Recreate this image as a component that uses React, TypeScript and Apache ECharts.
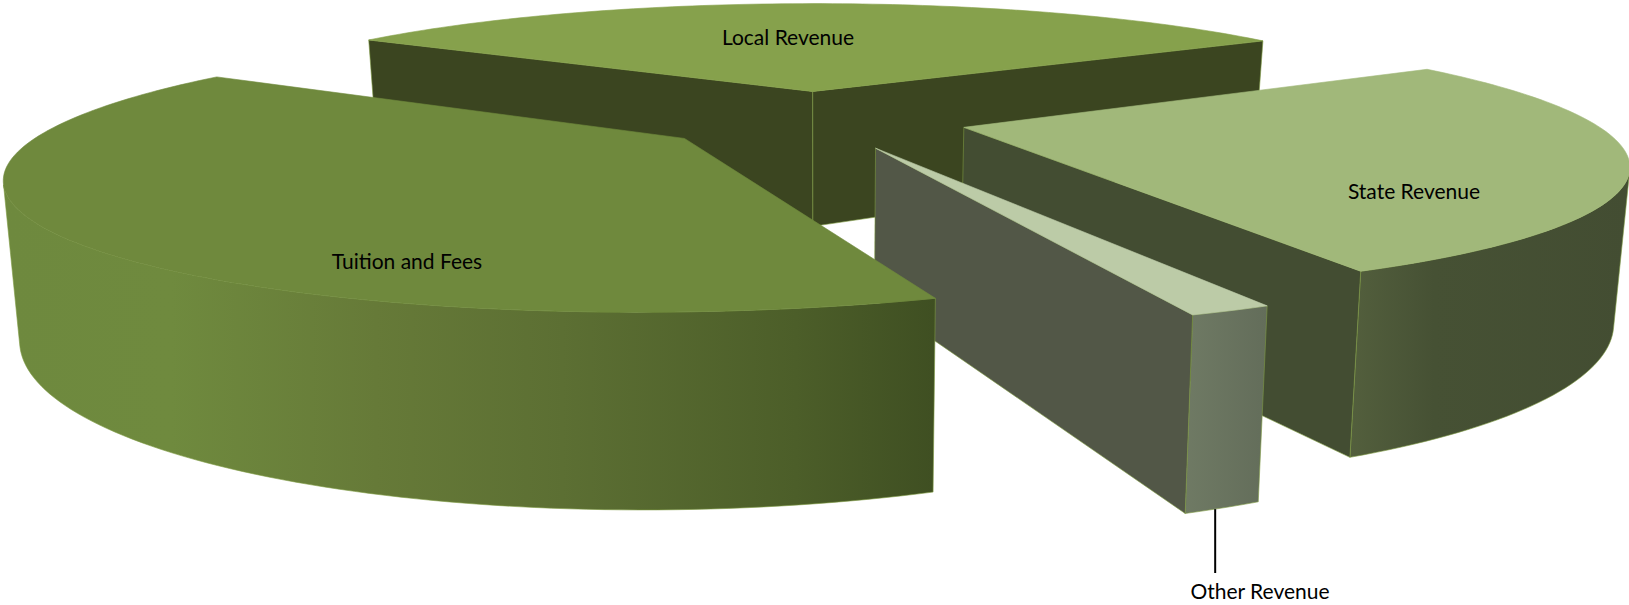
import React, { useEffect, useRef } from "react";
import * as echarts from "echarts";

// Revenue shares in percent, listed clockwise from the far-left cut of the pie.
const categories = ["Local Revenue", "State Revenue", "Other Revenue", "Tuition and Fees"];
const shares = [32.2, 26.6, 1.6, 39.6];
const explosion = [0.24, 0.25, 0.25, 0.25];

const WIDTH = 1629;
const HEIGHT = 605;
const FIRST_ANGLE = 212.4;

// Perspective camera: points on the top plane of the pie map to the screen through depth.
const CAM = {
  cx: 820.7,
  cy: 0,
  spreadX: 2598,
  horizon: -382.3,
  spreadY: 2082,
  distance: 4,
  thickness: 593,
  baseShrink: 0.02,
  centerX: -0.015,
  centerY: -0.155,
};

const topPoint = (X: number, Y: number) => {
  const d = CAM.distance - Y;
  return [CAM.cx + (CAM.spreadX * X) / d, CAM.horizon + CAM.spreadY / d];
};

const basePoint = (X: number, Y: number) => {
  const d = CAM.distance - Y;
  const [x, y] = topPoint(X, Y);
  return [CAM.cx + (x - CAM.cx) * (1 - CAM.baseShrink), y + CAM.thickness / d];
};

const cross = (a: number[], b: number[], c: number[]) =>
  (b[0] - a[0]) * (c[1] - b[1]) - (b[1] - a[1]) * (c[0] - b[0]);

type Stops = [number, string][];

const faceStyles: {
  top: string;
  cut: string;
  side: Stops;
  label: [number, number];
}[] = [
  {
    top: "#86A14C",
    cut: "#3B4520",
    side: [[0, "#3B4520"], [1, "#3B4520"]],
    label: [788, 36],
  },
  {
    top: "#A1B87A",
    cut: "#434D32",
    side: [[0, "#535F3D"], [0.3, "#465134"], [1, "#434D32"]],
    label: [1414, 190],
  },
  {
    top: "#BCCBA7",
    cut: "#525747",
    side: [[0, "#6F7A64"], [1, "#636D5A"]],
    label: [1260, 590],
  },
  {
    top: "#6F893D",
    cut: "#3B4520",
    side: [
      [0, "#6E893E"],
      [0.18, "#6F8A3E"],
      [0.4, "#667A38"],
      [0.6, "#5C6F33"],
      [0.85, "#4C5E29"],
      [1, "#3F4F22"],
    ],
    label: [407, 260],
  },
];

const EDGE = "#7E9B42";

const sliceBounds = (index: number) => {
  const total = shares.reduce((s, v) => s + v, 0);
  const before = shares.slice(0, index).reduce((s, v) => s + v, 0);
  const start = FIRST_ANGLE + (before / total) * 360;
  return [start, start + (shares[index] / total) * 360];
};

const renderSlice = (params: any) => {
  const i = params.dataIndex;
  const [a0, a1] = sliceBounds(i);
  const mid = (((a0 + a1) / 2) * Math.PI) / 180;
  const ox = CAM.centerX + explosion[i] * Math.cos(mid);
  const oy = CAM.centerY + explosion[i] * Math.sin(mid);
  const look = faceStyles[i];

  const steps = Math.max(4, Math.ceil((a1 - a0) / 1.2));
  const rim: [number, number][] = [];
  for (let s = 0; s <= steps; s++) {
    const t = ((a0 + ((a1 - a0) * s) / steps) * Math.PI) / 180;
    rim.push([ox + Math.cos(t), oy + Math.sin(t)]);
  }
  const apexTop = topPoint(ox, oy);
  const apexBase = basePoint(ox, oy);
  const rimTop = rim.map(([x, y]) => topPoint(x, y));
  const rimBase = rim.map(([x, y]) => basePoint(x, y));

  const children: any[] = [];

  // Curved outer wall: only the run of segments that face the camera.
  let first = -1;
  let last = -1;
  for (let s = 0; s < steps; s++) {
    if (cross(rimTop[s], rimTop[s + 1], rimBase[s + 1]) < 0) {
      if (first < 0) first = s;
      last = s + 1;
    }
  }
  if (first >= 0) {
    const wall = [
      ...rimTop.slice(first, last + 1),
      ...rimBase.slice(first, last + 1).reverse(),
    ];
    children.push({
      type: "polygon",
      shape: { points: wall },
      style: {
        fill: new echarts.graphic.LinearGradient(
          0,
          0,
          1,
          0,
          look.side.map(([offset, color]) => ({ offset, color }))
        ),
        stroke: EDGE,
        lineWidth: 0.6,
      },
    });
  }

  // Flat cut faces, kept only when they turn toward the camera.
  const startVisible = cross(apexTop, rimTop[0], rimBase[0]) < 0;
  const endVisible = cross(apexTop, rimTop[steps], rimBase[steps]) > 0;
  if (startVisible) {
    children.push({
      type: "polygon",
      shape: { points: [apexTop, rimTop[0], rimBase[0], apexBase] },
      style: { fill: look.cut, stroke: EDGE, lineWidth: 0.6 },
    });
  }
  if (endVisible) {
    children.push({
      type: "polygon",
      shape: { points: [apexTop, rimTop[steps], rimBase[steps], apexBase] },
      style: { fill: look.cut, stroke: EDGE, lineWidth: 0.6 },
    });
  }

  // Top surface.
  children.push({
    type: "polygon",
    shape: { points: [apexTop, ...rimTop] },
    style: { fill: look.top, stroke: look.top, lineWidth: 0.6 },
  });

  // The thinnest slice gets a leader line down to its label.
  if (categories[i] === "Other Revenue") {
    const foot = rimBase[Math.round(steps / 2)];
    children.push({
      type: "line",
      shape: { x1: foot[0], y1: foot[1], x2: foot[0], y2: look.label[1] - 17 },
      style: { stroke: "#000000", lineWidth: 2 },
    });
  }

  children.push({
    type: "text",
    x: look.label[0],
    y: look.label[1],
    style: {
      text: categories[i],
      fill: "#000000",
      font: "21px Lato",
      align: "center",
      verticalAlign: "middle",
    },
  });

  return { type: "group", children };
};

export default function App() {
  const ref = useRef<HTMLDivElement>(null);
  useEffect(() => {
    document.body.style.margin = "0";
    const chart = echarts.init(ref.current!, null, { renderer: "svg" });
    chart.setOption({
      animation: false,
      backgroundColor: "#ffffff",
      series: [
        {
          type: "custom",
          coordinateSystem: "none",
          silent: true,
          clip: false,
          data: shares.map((value, index) => ({ name: categories[index], value })),
          renderItem: renderSlice,
        },
      ],
    });
    return () => chart.dispose();
  }, []);
  return <div ref={ref} style={{ width: WIDTH, height: HEIGHT }} />;
}
